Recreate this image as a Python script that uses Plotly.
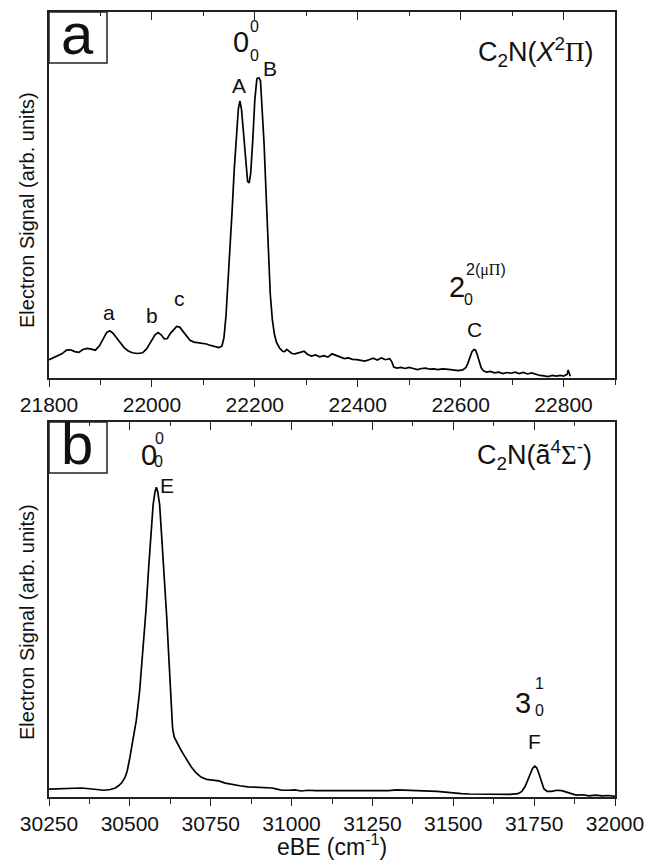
import plotly.graph_objects as go

# ---------------- data ----------------
x_a = [21800, 21812, 21825, 21834, 21842, 21850, 21858, 21866, 21874, 21882,
       21890, 21898, 21906, 21912, 21918, 21924, 21930, 21938, 21946, 21954,
       21962, 21972, 21982, 21990, 21998, 22006, 22012, 22018, 22024, 22030,
       22036, 22042, 22048, 22054, 22060, 22066, 22074, 22082, 22090, 22098,
       22106, 22114, 22122, 22130, 22136, 22140, 22144, 22148, 22152, 22156,
       22160, 22164, 22168, 22171, 22174, 22178, 22182, 22186, 22189, 22192,
       22196, 22200, 22204, 22208, 22211, 22214, 22218, 22222, 22226, 22230,
       22234, 22238, 22242, 22248, 22254, 22258, 22262, 22266, 22272, 22278,
       22284, 22290, 22296, 22302, 22310, 22318, 22326, 22334, 22342, 22350,
       22358, 22366, 22374, 22382, 22390, 22398, 22406, 22414, 22422, 22430,
       22438, 22446, 22454, 22462, 22466, 22470, 22476, 22484, 22492, 22500,
       22508, 22516, 22524, 22532, 22540, 22548, 22556, 22564, 22572, 22580,
       22588, 22596, 22604, 22610, 22614, 22618, 22622, 22626, 22629, 22632,
       22636, 22640, 22644, 22650, 22658, 22666, 22674, 22682, 22690, 22698,
       22706, 22714, 22722, 22730, 22738, 22746, 22754, 22762, 22770, 22778,
       22786, 22794, 22800, 22804, 22807, 22809, 22811, 22813]
y_a = [0.050, 0.058, 0.066, 0.076, 0.077, 0.072, 0.070, 0.078, 0.081, 0.079,
       0.076, 0.088, 0.110, 0.124, 0.129, 0.123, 0.112, 0.097, 0.083, 0.074,
       0.069, 0.067, 0.069, 0.080, 0.100, 0.118, 0.124, 0.118, 0.107, 0.108,
       0.122, 0.133, 0.141, 0.139, 0.128, 0.116, 0.103, 0.098, 0.097, 0.095,
       0.093, 0.089, 0.087, 0.083, 0.087, 0.110, 0.170, 0.260, 0.360, 0.460,
       0.570, 0.670, 0.735, 0.757, 0.735, 0.670, 0.590, 0.537, 0.533, 0.560,
       0.650, 0.760, 0.818, 0.820, 0.812, 0.740, 0.640, 0.500, 0.340, 0.230,
       0.160, 0.120, 0.098, 0.082, 0.073, 0.072, 0.078, 0.074, 0.067, 0.066,
       0.069, 0.070, 0.073, 0.065, 0.060, 0.063, 0.058, 0.061, 0.057, 0.066,
       0.062, 0.056, 0.053, 0.055, 0.051, 0.050, 0.048, 0.046, 0.050, 0.054,
       0.049, 0.055, 0.050, 0.053, 0.045, 0.030, 0.027, 0.029, 0.026, 0.029,
       0.026, 0.023, 0.026, 0.027, 0.024, 0.025, 0.023, 0.025, 0.024, 0.022,
       0.021, 0.020, 0.022, 0.028, 0.040, 0.058, 0.072, 0.078, 0.076, 0.065,
       0.045, 0.028, 0.020, 0.016, 0.018, 0.014, 0.016, 0.012, 0.015, 0.013,
       0.016, 0.012, 0.015, 0.011, 0.014, 0.010, 0.007, 0.006, 0.004, 0.007,
       0.005, 0.007, 0.005, 0.008, 0.010, 0.022, 0.012, 0.005]

x_b = [30250, 30275, 30300, 30325, 30350, 30375, 30400, 30420, 30440, 30455,
       30465, 30475, 30485, 30492, 30500, 30510, 30520, 30530, 30540, 30550,
       30558, 30565, 30572, 30578, 30582, 30586, 30592, 30598, 30606, 30614,
       30620, 30626, 30632, 30637, 30645, 30655, 30665, 30675, 30690, 30705,
       30720, 30737, 30755, 30775, 30795, 30815, 30840, 30865, 30890, 30915,
       30940, 30955, 30970, 30990, 31010, 31030, 31050, 31075, 31100, 31125,
       31150, 31175, 31200, 31225, 31250, 31275, 31300, 31325, 31350, 31375,
       31400, 31425, 31450, 31475, 31500, 31525, 31550, 31575, 31600, 31625,
       31650, 31675, 31700, 31712, 31722, 31730, 31738, 31745, 31752, 31758,
       31765, 31772, 31780, 31790, 31805, 31820, 31835, 31850, 31865, 31880,
       31900, 31920, 31940, 31960, 31980, 32000]
y_b = [0.021, 0.022, 0.022, 0.023, 0.024, 0.022, 0.019, 0.018, 0.020, 0.024,
       0.030, 0.038, 0.052, 0.070, 0.105, 0.150, 0.205, 0.280, 0.380, 0.500,
       0.610, 0.700, 0.780, 0.815, 0.826, 0.815, 0.780, 0.700, 0.600, 0.480,
       0.380, 0.280, 0.185, 0.160, 0.145, 0.130, 0.115, 0.100, 0.080, 0.064,
       0.053, 0.047, 0.046, 0.043, 0.037, 0.033, 0.030, 0.027, 0.026, 0.024,
       0.024, 0.021, 0.018, 0.018, 0.019, 0.016, 0.018, 0.017, 0.017, 0.015,
       0.017, 0.015, 0.016, 0.016, 0.017, 0.016, 0.017, 0.019, 0.018, 0.019,
       0.018, 0.017, 0.015, 0.013, 0.010, 0.009, 0.008, 0.008, 0.007, 0.006,
       0.007, 0.007, 0.009, 0.015, 0.028, 0.045, 0.062, 0.076, 0.082, 0.078,
       0.062, 0.040, 0.022, 0.015, 0.015, 0.018, 0.017, 0.013, 0.010, 0.005,
       0.006, 0.003, 0.005, 0.003, 0.004, 0.002]

range_a = [21800, 22900]
range_b = [30250, 32000]
ticks_a = [21800, 22000, 22200, 22400, 22600, 22800]
ticks_b = [30250, 30500, 30750, 31000, 31250, 31500, 31750, 32000]

# ---------------- layout geometry ----------------
W, H = 647, 861
ML, MR, MT, MB = 49, 32, 12, 64
PW = W - ML - MR
PH = H - MT - MB

def py(p):  # pixel y -> paper
    return (H - MB - p) / PH

def px(p):  # pixel x -> paper
    return (p - ML) / PW

dom_a = [py(378), 1.0]
dom_b = [0.0, py(422)]

FONT = "Liberation Sans, Arial, sans-serif"
LC = "#222222"

fig = go.Figure()
fig.add_trace(go.Scatter(x=x_a, y=y_a, mode="lines", xaxis="x", yaxis="y",
                         line=dict(color="black", width=1.7), hoverinfo="skip"))
fig.add_trace(go.Scatter(x=x_b, y=y_b, mode="lines", xaxis="x2", yaxis="y2",
                         line=dict(color="black", width=1.7), hoverinfo="skip"))
# invisible traces for top axes
fig.add_trace(go.Scatter(x=range_a, y=[-1, -1], mode="lines", xaxis="x3", yaxis="y",
                         line=dict(width=0), showlegend=False, hoverinfo="skip"))
fig.add_trace(go.Scatter(x=range_b, y=[-1, -1], mode="lines", xaxis="x4", yaxis="y2",
                         line=dict(width=0), showlegend=False, hoverinfo="skip"))

def bottom_axis(rng, ticks, minor_dt, anchor):
    return dict(range=rng, tickvals=ticks, ticktext=[str(t) for t in ticks],
                ticks="outside", ticklen=7, tickwidth=1.3,
                tickcolor=LC, showline=True, linecolor=LC, linewidth=1.5,
                showgrid=False, zeroline=False, anchor=anchor, automargin=False,
                tickfont=dict(family=FONT, size=21, color="#111"),
                minor=dict(dtick=minor_dt, ticks="outside", ticklen=5, tickwidth=1.3,
                           tickcolor=LC, showgrid=False),
                fixedrange=True)

def top_axis(rng, ticks, minor_dt, overlay, anchor):
    return dict(range=rng, tickvals=ticks, ticks="inside", ticklen=8, tickwidth=1.3,
                tickcolor=LC, showline=True, linecolor=LC, linewidth=1.5,
                showgrid=False, zeroline=False, side="top", overlaying=overlay,
                anchor=anchor, showticklabels=False, automargin=False,
                minor=dict(dtick=minor_dt, ticks="inside", ticklen=4, tickwidth=1.3,
                           tickcolor=LC, showgrid=False),
                fixedrange=True)

def yax(dom):
    return dict(domain=dom, range=[0, 1], showticklabels=False, ticks="",
                showline=True, mirror=True, linecolor=LC, linewidth=1.5,
                showgrid=False, zeroline=False, fixedrange=True, automargin=False)

fig.update_layout(
    width=W, height=H,
    margin=dict(l=ML, r=MR, t=MT, b=MB, autoexpand=False),
    paper_bgcolor="white", plot_bgcolor="white",
    showlegend=False,
    xaxis=bottom_axis(range_a, ticks_a, 100, "y"),
    xaxis2=bottom_axis(range_b, ticks_b, 125, "y2"),
    xaxis3=top_axis(range_a, ticks_a, 100, "x", "y"),
    xaxis4=top_axis(range_b, ticks_b, 125, "x2", "y2"),
    yaxis=yax(dom_a),
    yaxis2=yax(dom_b),
)

ann = []

def txt(x, y, s, size, xr, yr, xanchor="center", yanchor="middle", angle=0):
    ann.append(dict(x=x, y=y, xref=xr, yref=yr, text=s, showarrow=False,
                    xanchor=xanchor, yanchor=yanchor, textangle=angle,
                    font=dict(family=FONT, size=size, color="#111")))

SER = "<span style='font-family:Liberation Serif'>%s</span>"

# panel a peak labels
txt(21917, 0.178, "a", 21, "x", "y")
txt(22000, 0.172, "b", 21, "x", "y")
txt(22054, 0.218, "c", 21, "x", "y")
txt(22169, 0.798, "A", 21, "x", "y")
txt(22230, 0.847, "B", 21, "x", "y")
txt(22626, 0.1325, "C", 21, "x", "y")
txt(22173, 0.918, "0", 29, "x", "y")
txt(22200, 0.960, "0", 16, "x", "y")
txt(22199, 0.881, "0", 16, "x", "y")
txt(22593, 0.249, "2", 29, "x", "y")
txt(22615, 0.215, "0", 16, "x", "y")
txt(22607, 0.295, "2(" + SER % "μΠ" + ")", 16, "x", "y", xanchor="left")
txt(22864, 0.891, "C<sub>2</sub>N(<i>X</i><sup>2</sup>" + SER % "Π" + ")",
    27, "x", "y", xanchor="right")

# panel b labels
txt(30560, 0.912, "0", 29, "x2", "y2")
txt(30593, 0.957, "0", 16, "x2", "y2")
txt(30589, 0.894, "0", 16, "x2", "y2")
txt(30615, 0.832, "E", 21, "x2", "y2")
txt(31716, 0.250, "3", 29, "x2", "y2")
txt(31768, 0.303, "1", 16, "x2", "y2")
txt(31768, 0.232, "0", 16, "x2", "y2")
txt(31750, 0.147, "F", 21, "x2", "y2")
txt(31935, 0.912, "C<sub>2</sub>N(ã<sup>4</sup>" + SER % "Σ" + "<sup>-</sup>)",
    27, "x2", "y2", xanchor="right")

# panel letters in boxes
txt(px(77), py(33), "a", 58, "paper", "paper")
txt(px(77), py(443), "b", 58, "paper", "paper")

# axis titles
txt(px(27), py(210), "Electron Signal (arb. units)", 20, "paper", "paper", angle=-90)
txt(px(27), py(622), "Electron Signal (arb. units)", 20, "paper", "paper", angle=-90)
txt(0.5, py(845), "eBE (cm<sup>-1</sup>)", 23, "paper", "paper")

fig.update_layout(annotations=ann)

shapes = []
for top, bot in [(12, 63), (422, 473)]:
    shapes.append(dict(type="rect", xref="paper", yref="paper",
                       x0=0, x1=px(107), y0=py(bot), y1=py(top),
                       line=dict(color=LC, width=1.5)))
fig.update_layout(shapes=shapes)

fig.write_html("out.html", config={"displayModeBar": False},
               post_script="document.body.style.margin='0';document.body.style.padding='0';")
